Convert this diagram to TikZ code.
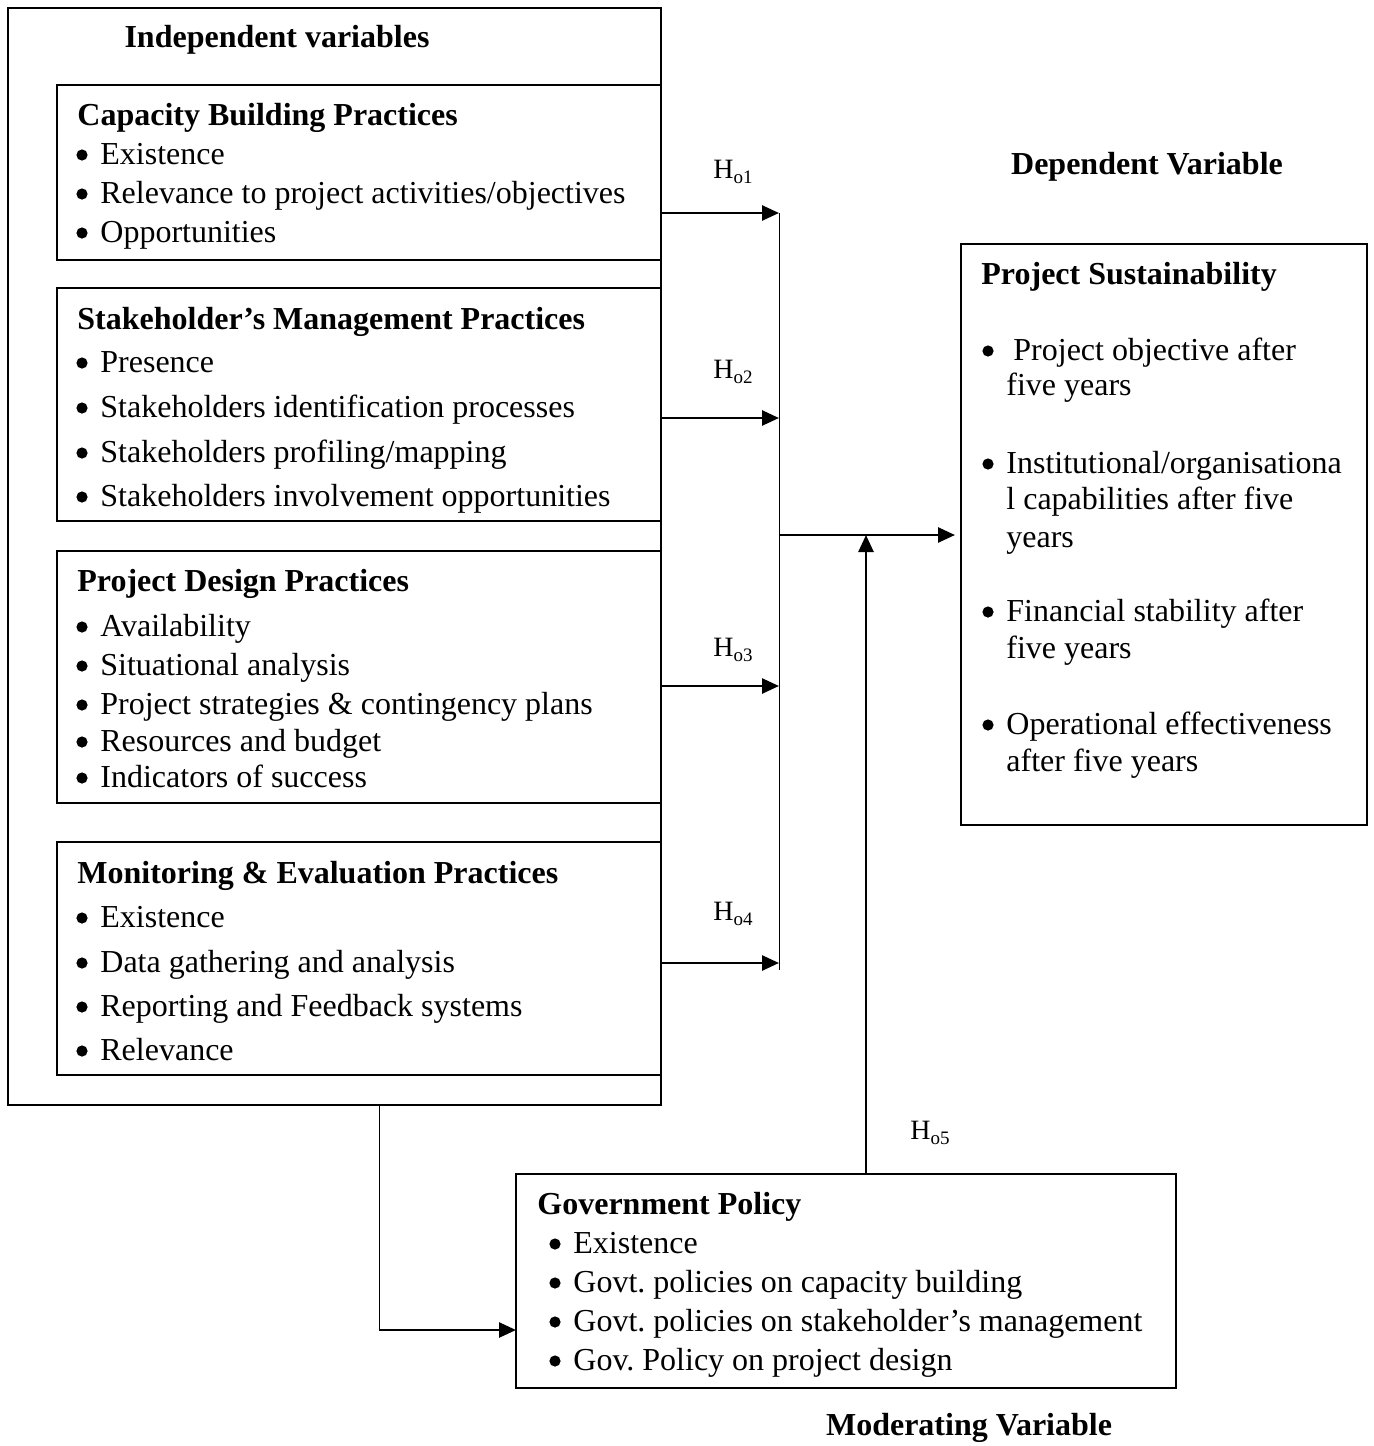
\documentclass[tikz,border=0pt]{standalone}
\usepackage{fontspec}
\setmainfont{Liberation Serif}
\usetikzlibrary{arrows.meta}
\frenchspacing
\begin{document}
\begin{tikzpicture}[x=0.5pt,y=-0.5pt,
  every node/.style={inner sep=0pt,font=\fontsize{16}{19}\selectfont},
  box/.style={draw,line width=0.9pt},
  ttl/.style={anchor=base west,font=\fontsize{16}{19}\selectfont\bfseries},
  hdr/.style={font=\fontsize{16}{19}\selectfont\bfseries},
  itm/.style={anchor=base west},
  bul/.style={circle,fill,minimum size=5.6pt},
  hl/.style={anchor=center,font=\fontsize{14}{16}\selectfont},
  arr/.style={line width=1.3pt,-{Triangle[length=8.5pt,width=7.5pt]}},
  thin/.style={line width=0.5pt}]
\useasboundingbox (0,0) rectangle (1374,1446);
% outer box
\draw[box] (8,8) rectangle (661,1105);
\node[hdr] (iv) at (277,40) {Independent variables};
% box 1
\draw[box] (57,85) rectangle (661,260);
\node[ttl] (t1) at (77,125) {Capacity Building Practices};
\foreach \y/\t [count=\i] in {154/{Existence},193/{Relevance to project activities/objectives},232/{Opportunities}}{
  \node[bul] (b1b\i) at (82,\y+1) {};
  \node[itm] (b1t\i) at (100,\y+10) {\t};}
% box 2
\draw[box] (57,288) rectangle (661,521);
\node[ttl] (t2) at (77,329) {Stakeholder’s Management Practices};
\foreach \y/\t [count=\i] in {362/{Presence},407/{Stakeholders identification processes},452/{Stakeholders profiling/mapping},496/{Stakeholders involvement opportunities}}{
  \node[bul] (b2b\i) at (82,\y+1) {};
  \node[itm] (b2t\i) at (100,\y+10) {\t};}
% box 3
\draw[box] (57,551) rectangle (661,803);
\node[ttl] (t3) at (77,591) {Project Design Practices};
\foreach \y/\t [count=\i] in {626/{Availability},665/{Situational analysis},704/{Project strategies \& contingency plans},741/{Resources and budget},777/{Indicators of success}}{
  \node[bul] (b3b\i) at (82,\y+1) {};
  \node[itm] (b3t\i) at (100,\y+10) {\t};}
% box 4
\draw[box] (57,842) rectangle (661,1075);
\node[ttl] (t4) at (77,883) {Monitoring \& Evaluation Practices};
\foreach \y/\t [count=\i] in {917/{Existence},962/{Data gathering and analysis},1006/{Reporting and Feedback systems},1050/{Relevance}}{
  \node[bul] (b4b\i) at (82,\y+1) {};
  \node[itm] (b4t\i) at (100,\y+10) {\t};}
% collector line
\coordinate (c1) at (779,213);
\coordinate (c2) at (779,418);
\coordinate (c3) at (779,686);
\coordinate (c4) at (779,963);
\coordinate (cm) at (779,535);
\coordinate (ctop) at (779,213);
\coordinate (cbot) at (779,970);
\draw[thin] (ctop) -- (cbot);
\coordinate (s1) at (661,213);
\coordinate (s2) at (661,418);
\coordinate (s3) at (661,686);
\coordinate (s4) at (661,963);
\foreach \i in {1,2,3,4}{\draw[arr] (s\i) -- (c\i);}
\node[hl] (h1) at (733,172) {H\raisebox{-0.35ex}{\fontsize{9.5}{10}\selectfont o1}};
\node[hl] (h2) at (733,372) {H\raisebox{-0.35ex}{\fontsize{9.5}{10}\selectfont o2}};
\node[hl] (h3) at (733,650) {H\raisebox{-0.35ex}{\fontsize{9.5}{10}\selectfont o3}};
\node[hl] (h4) at (733,914) {H\raisebox{-0.35ex}{\fontsize{9.5}{10}\selectfont o4}};
% dependent
\node[hdr] (dv) at (1147,167) {Dependent Variable};
\draw[box] (961,244) rectangle (1367,825);
\coordinate (dl) at (955,535);
\draw[arr] (cm) -- (dl);
\node[ttl] (pt) at (981,284) {Project Sustainability};
\node[bul] (pb1) at (988,351) {};
\node[itm] (p1a) at (1013,360) {Project objective after};
\node[itm] (p1b) at (1006,395) {five years};
\node[bul] (pb2) at (988,464) {};
\node[itm] (p2a) at (1006,473) {Institutional/organisationa};
\node[itm] (p2b) at (1006,509) {l capabilities after five};
\node[itm] (p2c) at (1006,547) {years};
\node[bul] (pb3) at (988,612) {};
\node[itm] (p3a) at (1006,621) {Financial stability after};
\node[itm] (p3b) at (1006,658) {five years};
\node[bul] (pb4) at (988,725) {};
\node[itm] (p4a) at (1006,734) {Operational effectiveness};
\node[itm] (p4b) at (1006,771) {after five years};
% government
\draw[box] (516,1174) rectangle (1176,1388);
\coordinate (gt) at (866,1174);
\coordinate (gm) at (866,535);
\draw[arr] (gt) -- (gm);
\node[hl] (h5) at (930,1133) {H\raisebox{-0.35ex}{\fontsize{9.5}{10}\selectfont o5}};
\node[ttl] (gtt) at (537,1214) {Government Policy};
\foreach \y/\t [count=\i] in {1243/{Existence},1282/{Govt. policies on capacity building},1321/{Govt. policies on stakeholder’s management},1360/{Gov. Policy on project design}}{
  \node[bul] (gb\i) at (555,\y+1) {};
  \node[itm] (gt\i) at (573,\y+10) {\t};}
\coordinate (ob) at (379,1105);
\coordinate (oc) at (379,1330);
\coordinate (gl) at (516,1330);
\draw[thin] (ob) -- (oc);
\draw[arr] (oc) -- (gl);
\node[hdr] (mv) at (969,1428) {Moderating Variable};
\end{tikzpicture}
\end{document}
